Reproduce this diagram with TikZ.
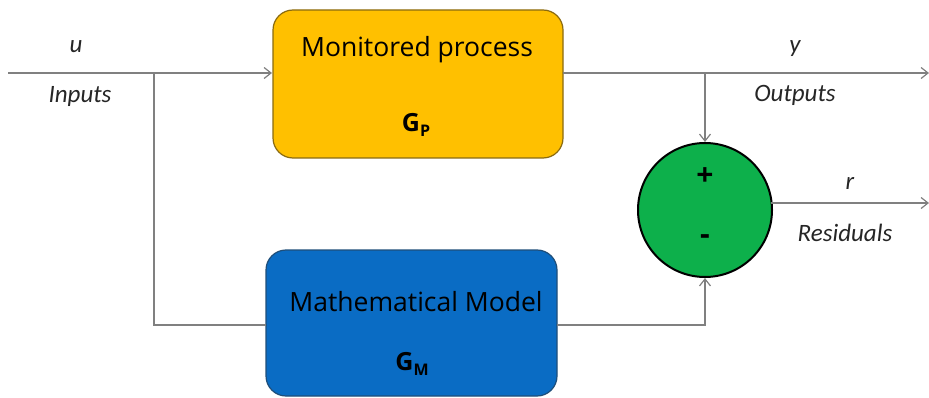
\documentclass[tikz,border=0pt]{standalone}
\usepackage{fontspec}
\setmainfont{Open Sans}
\newfontfamily\lblfont{Carlito}
\usetikzlibrary{arrows.meta}
\definecolor{procY}{HTML}{FFC000}
\definecolor{procYb}{HTML}{8A6A10}
\definecolor{modB}{HTML}{0A6CC4}
\definecolor{modBb}{HTML}{1F4E79}
\definecolor{sumG}{HTML}{0DB04B}
\definecolor{lineG}{HTML}{808080}
\tikzset{
  blockbox/.style={rounded corners=20pt, line width=1.2pt},
  wire/.style={draw=lineG, line width=1.2pt},
  arr/.style={wire, -{Straight Barb[length=7pt,width=11pt]}},
  lbl/.style={font=\lblfont\itshape\fontsize{25}{28}\selectfont, text=black!85},
  boxtext/.style={font=\fontsize{26.5}{30}\selectfont, text=black},
  gtext/.style={font=\bfseries\fontsize{25}{28}\selectfont, text=black},
}
\begin{document}
\begin{tikzpicture}[x=1pt,y=-1pt]
\useasboundingbox (0,0) rectangle (929,398);
% blocks
\draw[blockbox, fill=procY, draw=procYb] (273,10) rectangle (563,158);
\draw[blockbox, fill=modB, draw=modBb] (266,250) rectangle (557,396);
\node[boxtext] (proct) at (417,50) {Monitored process};
\node[gtext] (gp) at (416,125) {G\raisebox{-5pt}{\fontsize{16}{16}\selectfont P}};
\node[boxtext] (modt) at (416,302) {Mathematical Model};
\node[gtext] (gm) at (412,364) {G\raisebox{-5pt}{\fontsize{16}{16}\selectfont M}};
% summing junction
\node[circle, fill=sumG, draw=black, line width=2pt, minimum size=134pt, inner sep=0pt] (sum) at (705,210) {};
\node[font=\bfseries\fontsize{30}{32}\selectfont] (plus) at (705,177) {+};
\node[font=\bfseries\fontsize{30}{32}\selectfont] (minus) at (705,240) {-};
% coordinates
\coordinate (uin) at (8,73);
\coordinate (ubr) at (154,73);
\coordinate (ubot) at (154,325);
\coordinate (pin) at (272,73);
\coordinate (min) at (266,325);
\coordinate (pout) at (563,73);
\coordinate (ybr) at (705,73);
\coordinate (yend) at (929,73);
\coordinate (mout) at (557,325);
\coordinate (mcorner) at (705,325);
\coordinate (rstart) at (771,203);
\coordinate (rend) at (929,203);
% wires
\draw[arr] (uin) -- (pin);
\draw[wire] (ubr) -- (ubot) -- (min);
\draw[arr] (pout) -- (yend);
\draw[arr] (ybr) -- (sum.north);
\draw[arr] (mout) -- (mcorner) -- (sum.south);
\draw[arr] (rstart) -- (rend);
% labels
\node[lbl] (ulbl) at (76,47) {u};
\node[lbl] (inlbl) at (80,96) {Inputs};
\node[lbl] (ylbl) at (795,49) {y};
\node[lbl] (outlbl) at (795,95) {Outputs};
\node[lbl] (rlbl) at (850,183) {r};
\node[lbl] (reslbl) at (845,233) {Residuals};
\end{tikzpicture}
\end{document}
